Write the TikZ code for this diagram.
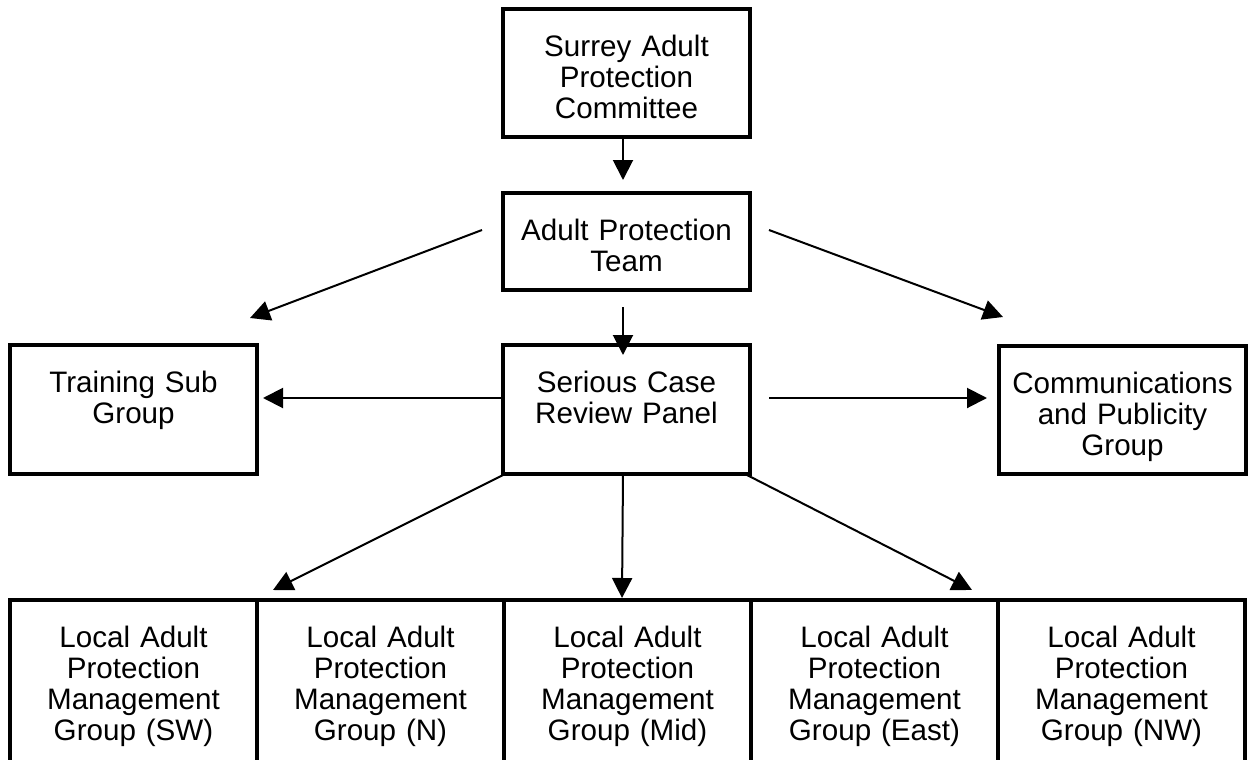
\documentclass[tikz,border=0pt]{standalone}
\usepackage{fontspec}
\setmainfont{Liberation Sans}
\usetikzlibrary{arrows.meta,calc}

\tikzset{
	box/.style={draw, line width=2pt, anchor=north west, inner sep=0pt, outer sep=0pt,
		text width=123.5pt, align=center, text height=23.5pt,
		font=\fontsize{14.8pt}{15.6pt}\selectfont},
	arr/.style={line width=1pt, -{Triangle[length=10pt,width=10pt]}}
}

\begin{document}
\begin{tikzpicture}[x=0.5pt,y=-0.5pt]
	\fill[white] (0,0) rectangle (1248,760);
	\useasboundingbox (0,0) rectangle (1248,760);

	% committee and team
	\node[box, text depth=40.5pt] (sapc) at (503,9) {Surrey Adult\\Protection\\Committee};
	\node[box, text depth=25pt] (apt) at (503,193) {Adult Protection\\Team};

	% middle row
	\node[box, text depth=41pt] (tsg) at (10,345) {Training Sub\\Group};
	\node[box, text depth=41pt] (scrp) at (503,345) {Serious Case\\Review Panel};
	\node[box, text depth=40.5pt] (cpg) at (999,346) {Communications\\and Publicity\\Group};

	% local groups, running off the bottom
	\foreach \reg [count=\i from 0] in {SW,N,Mid,East,NW}
		\node[box, text depth=61.5pt] (lapmg-\reg) at (10+247*\i,600)
			{Local Adult\\Protection\\Management\\Group (\reg)};

	\draw[arr] ($(sapc.south)+(-3.5,0)$) -- ($(apt.north)+(-3.5,-13)$);
	\draw[arr] ($(apt.south)+(-3.5,17)$) -- ($(scrp.north)+(-3.5,10)$);
	\draw[arr] ($(apt.west)+(-21,-11.5)$) -- ($(tsg.north east)+(-7,-27)$);
	\draw[arr] ($(apt.east)+(19,-11.5)$) -- ($(cpg.north west)+(4,-29)$);

	\draw[arr] ($(scrp.west)+(0,-11.5)$) -- ($(tsg.east)+(6,-11.5)$);
	\draw[arr] ($(scrp.east)+(19,-11.5)$) -- ($(cpg.west)+(-12,-12)$);

	\draw[arr] ($(scrp.south west)+(2,0)$) -- ($(lapmg-SW.north east)+(16,-10)$);
	\draw[arr] ($(scrp.south)+(-3.5,0)$) -- ($(lapmg-Mid.north)+(-5.5,-2)$);
	\draw[arr] ($(scrp.south east)+(-5,0)$) -- ($(lapmg-East.north east)+(-26,-10)$);
\end{tikzpicture}
\end{document}
